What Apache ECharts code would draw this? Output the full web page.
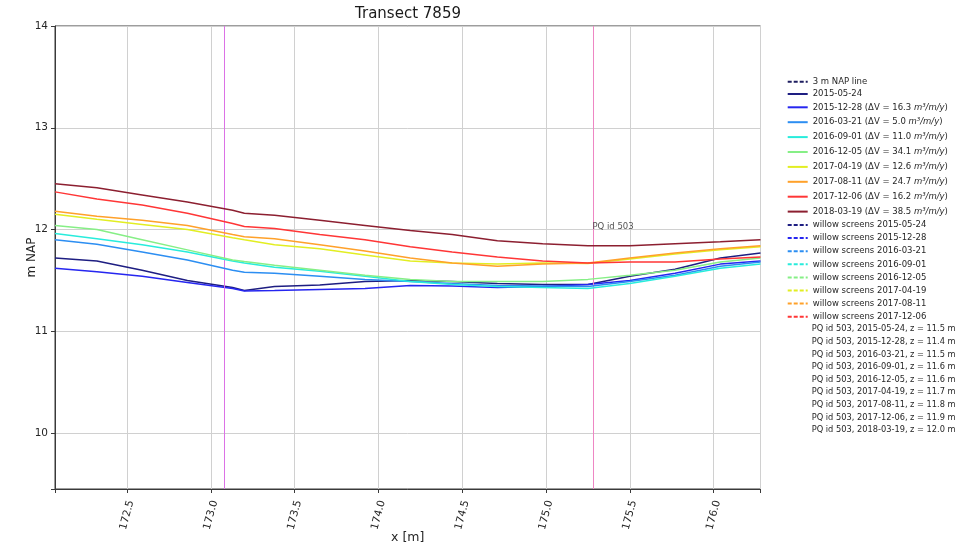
<!DOCTYPE html>
<html>
<head>
<meta charset="utf-8">
<script src="https://cdn.jsdelivr.net/npm/echarts@6/dist/echarts.min.js"></script>
<style>
  html, body { margin: 0; padding: 0; background: #ffffff; }
  #chart { width: 959px; height: 551px; }
</style>
</head>
<body>
<div id="chart"></div>
<script>
// Cross-shore positions (m) at which the surveyed profiles are sampled
const xPos = [172.07, 172.32, 172.59, 172.86, 173.13, 173.2, 173.38, 173.65, 173.92,
              174.19, 174.44, 174.71, 174.98, 175.25, 175.5, 175.77, 176.04, 176.28];

// Surveyed bed level (m NAP) for each survey date
const prof_2015_05_24 = [11.72, 11.69, 11.60, 11.50, 11.43, 11.40, 11.44, 11.455, 11.49, 11.50, 11.49, 11.47, 11.46, 11.46, 11.54, 11.61, 11.72, 11.77];
const prof_2015_12_28 = [11.62, 11.585, 11.54, 11.48, 11.42, 11.395, 11.40, 11.41, 11.42, 11.45, 11.445, 11.43, 11.44, 11.46, 11.50, 11.57, 11.66, 11.69];
const prof_2016_03_21 = [11.90, 11.855, 11.78, 11.70, 11.60, 11.58, 11.57, 11.54, 11.51, 11.49, 11.47, 11.45, 11.445, 11.44, 11.49, 11.55, 11.64, 11.68];
const prof_2016_09_01 = [11.96, 11.91, 11.85, 11.78, 11.69, 11.67, 11.63, 11.59, 11.54, 11.49, 11.46, 11.44, 11.43, 11.42, 11.47, 11.54, 11.62, 11.66];
const prof_2016_12_05 = [12.04, 12.00, 11.90, 11.80, 11.70, 11.685, 11.65, 11.60, 11.55, 11.51, 11.49, 11.49, 11.49, 11.51, 11.55, 11.60, 11.68, 11.72];
const prof_2017_04_19 = [12.15, 12.10, 12.05, 12.00, 11.92, 11.90, 11.85, 11.81, 11.75, 11.69, 11.67, 11.66, 11.67, 11.665, 11.71, 11.76, 11.80, 11.83];
const prof_2017_08_11 = [12.18, 12.13, 12.09, 12.04, 11.95, 11.93, 11.91, 11.85, 11.79, 11.72, 11.67, 11.64, 11.66, 11.67, 11.72, 11.77, 11.81, 11.84];
const prof_2017_12_06 = [12.37, 12.30, 12.24, 12.16, 12.06, 12.03, 12.01, 11.95, 11.90, 11.83, 11.78, 11.73, 11.69, 11.67, 11.68, 11.68, 11.71, 11.73];
const prof_2018_03_19 = [12.45, 12.41, 12.34, 12.27, 12.19, 12.16, 12.14, 12.09, 12.04, 11.99, 11.95, 11.89, 11.86, 11.84, 11.84, 11.86, 11.88, 11.90];

const surveyDates = ['2015-05-24', '2015-12-28', '2016-03-21', '2016-09-01', '2016-12-05',
                     '2017-04-19', '2017-08-11', '2017-12-06', '2018-03-19'];
// Volume change relative to the previous survey (m³/m/y); first survey has none
const volumeChange = [null, 16.3, 5.0, 11.0, 34.1, 12.6, 24.7, 16.2, 38.5];
// Dates for which willow screen positions are available
const screenDates = ['2015-05-24', '2015-12-28', '2016-03-21', '2016-09-01', '2016-12-05',
                     '2017-04-19', '2017-08-11', '2017-12-06'];
// Permanent quadrat 503: location and measured elevation per survey
const pqId = 503;
const pqX = 175.28;
const pqZ = [11.5, 11.4, 11.5, 11.6, 11.6, 11.7, 11.8, 11.9, 12.0];
// Vertical reference positions along the transect
const refLinesX = [173.08, 175.28];
const refLineColors = ['#dc72e6', '#ee86c4'];
// Reference level
const napLevel = 3;

const profiles = [prof_2015_05_24, prof_2015_12_28, prof_2016_03_21, prof_2016_09_01, prof_2016_12_05,
                  prof_2017_04_19, prof_2017_08_11, prof_2017_12_06, prof_2018_03_19];
const dateColors = ['#1e1e82', '#2626f0', '#2c8ef2', '#28ecdc', '#86ef86',
                    '#e2ee22', '#ffa12a', '#ff3636', '#8c1f30'];

const FONT = 'DejaVu Sans';
const TXT = '#262626';

const profileNames = surveyDates.map((d, i) =>
  volumeChange[i] == null ? d : d + ' (ΔV = ' + volumeChange[i].toFixed(1) + ' m³/m/y)');
const screenNames = screenDates.map(d => 'willow screens ' + d);
const pqNames = surveyDates.map((d, i) => 'PQ id ' + pqId + ', ' + d + ', z = ' + pqZ[i].toFixed(1) + ' m');
const napName = napLevel + ' m NAP line';

const series = [];

series.push({
  name: napName, type: 'line', symbol: 'none', silent: true, clip: true,
  data: [[xPos[0], napLevel], [xPos[xPos.length - 1], napLevel]],
  lineStyle: { color: '#1e1e60', width: 1.5, type: [4, 2] }
});

profiles.forEach((p, i) => {
  series.push({
    name: profileNames[i], type: 'line', symbol: 'none', silent: true,
    data: p.map((z, k) => [xPos[k], z]),
    lineStyle: { color: dateColors[i], width: 1.5 },
    itemStyle: { color: dateColors[i] },
    z: 3 + i
  });
});

screenDates.forEach((d, i) => {
  series.push({
    name: screenNames[i], type: 'line', symbol: 'none', silent: true,
    data: [],
    lineStyle: { color: dateColors[i], width: 1.5, type: [4, 2] },
    itemStyle: { color: dateColors[i] }
  });
});

pqNames.forEach((n, i) => {
  series.push({
    name: n, type: 'line', symbol: 'none', silent: true,
    data: [[pqX, pqZ[i]]],
    lineStyle: { width: 0, opacity: 0 },
    itemStyle: { color: 'transparent' }
  });
});

// Quadrat label
series.push({
  name: 'pq-label', type: 'scatter', silent: true, symbolSize: 1,
  itemStyle: { color: 'transparent' },
  data: [[pqX, Math.max.apply(null, pqZ)]],
  label: {
    show: true, formatter: 'PQ id ' + pqId, position: [0, -2.5], align: 'left', verticalAlign: 'middle',
    fontFamily: FONT, fontSize: 8.5, color: TXT
  },
  z: 20
});

// Vertical reference lines
refLinesX.forEach((x, i) => {
  series.push({
    name: 'ref-' + i, type: 'line', silent: true, data: [],
    markLine: {
      silent: true, symbol: ['none', 'none'], animation: false,
      label: { show: false },
      lineStyle: { color: refLineColors[i], width: 1, type: 'solid' },
      data: [{ xAxis: x }]
    },
    z: 15
  });
});

function legendBlock(names, top, gap, hideIcon, size) {
  return {
    orient: 'vertical', left: 786.7, top: top, itemGap: gap, padding: 0,
    itemWidth: 20, itemHeight: 8, selectedMode: false,
    itemStyle: { opacity: 0 },
    data: names.map(n => hideIcon
      ? { name: n, icon: 'none', itemStyle: { opacity: 0 }, lineStyle: { opacity: 0 } }
      : n),
    formatter: name => name.replace('m³/m/y', '{i|m³/m/y}'),
    textStyle: {
      fontFamily: FONT, fontSize: size, color: TXT, lineHeight: 10,
      rich: { i: { fontFamily: FONT, fontSize: size, fontStyle: 'italic', color: TXT, lineHeight: 10 } }
    }
  };
}

const option = {
  animation: false,
  backgroundColor: '#ffffff',
  title: {
    text: 'Transect 7859', left: 408, top: 7, textAlign: 'center', padding: 0,
    textStyle: { fontFamily: FONT, fontSize: 15, fontWeight: 'normal', color: '#1a1a1a' }
  },
  legend: [
    legendBlock([napName, profileNames[0]], 76.7, 2.3, false, 8.5),
    legendBlock(profileNames.slice(1), 102.3, 4.9, false, 8.5),
    legendBlock(screenNames, 220, 3.1, false, 8.5),
    legendBlock(pqNames, 324.3, 2.6, true, 8.25)
  ],
  grid: {
    left: 55, top: 26, right: 198.5, bottom: 62,
    show: true, borderColor: '#3a3a3a', borderWidth: 1, backgroundColor: 'transparent'
  },
  xAxis: {
    type: 'value', min: 172.07, max: 176.28, splitNumber: 8,
    name: 'x [m]', nameLocation: 'middle', nameGap: 42, nameMoveOverlap: false,
    nameTextStyle: { fontFamily: FONT, fontSize: 12.5, color: TXT },
    axisLine: { show: true, lineStyle: { color: '#3a3a3a' } },
    axisTick: { show: true, length: 4, lineStyle: { color: '#3a3a3a' } },
    splitLine: { show: true, lineStyle: { color: '#d0d0d0', width: 1 } },
    axisLabel: {
      rotate: 75, align: 'center', verticalAlign: 'middle', margin: 26,
      fontFamily: FONT, fontSize: 10.5, color: TXT,
      formatter: v => {
        const r = Math.round(v * 2) / 2;
        return Math.abs(v - r) < 1e-6 ? r.toFixed(1) : '';
      }
    }
  },
  yAxis: {
    type: 'value', min: 9.45, max: 14, splitNumber: 5,
    name: 'm NAP', nameLocation: 'middle', nameGap: 17, nameMoveOverlap: false,
    nameTextStyle: { fontFamily: FONT, fontSize: 12, color: TXT },
    axisLine: { show: true, lineStyle: { color: '#3a3a3a' } },
    axisTick: { show: true, length: 4, lineStyle: { color: '#3a3a3a' } },
    splitLine: { show: true, lineStyle: { color: '#d0d0d0', width: 1 } },
    axisLabel: {
      margin: 7, fontFamily: FONT, fontSize: 10.5, color: TXT,
      formatter: v => (Math.abs(v - Math.round(v)) < 1e-6 ? String(Math.round(v)) : '')
    }
  },
  series: series
};

const chart = echarts.init(document.getElementById('chart'), null, { renderer: 'canvas' });
chart.setOption(option);
</script>
</body>
</html>
